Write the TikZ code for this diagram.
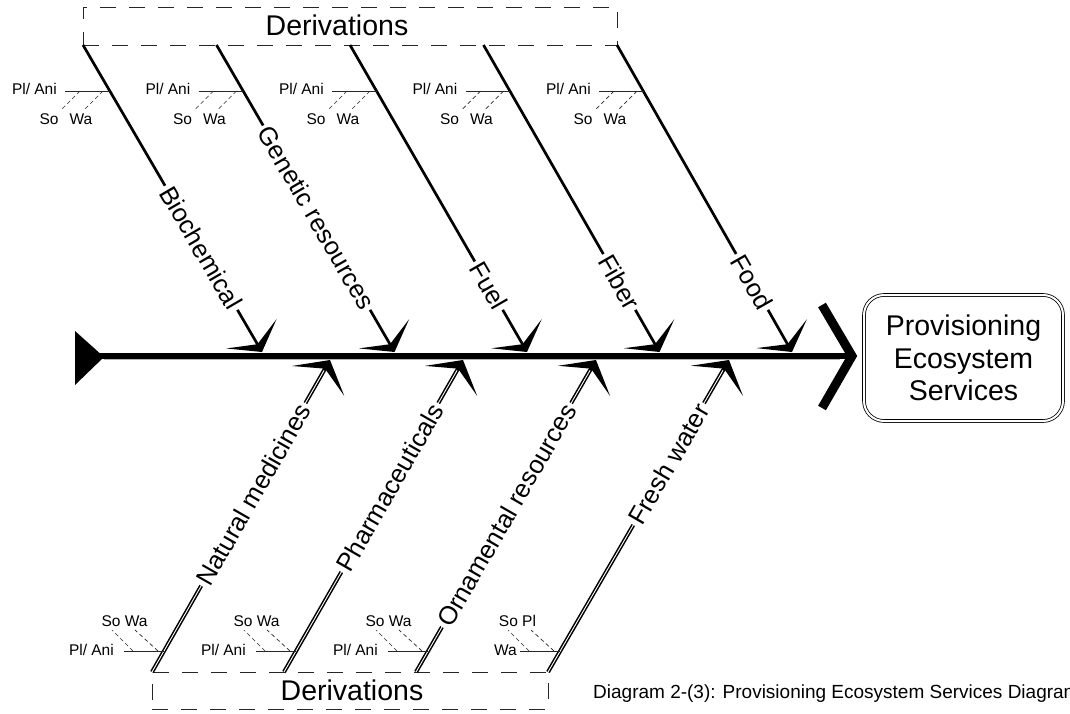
\documentclass[tikz,border=0pt]{standalone}
\usepackage{fontspec}
\setmainfont{Liberation Sans}
\usetikzlibrary{arrows.meta}
\begin{document}
\begin{tikzpicture}[x=1pt,y=-1pt,
  topbone/.style={line width=2.7pt, -{Stealth[length=21pt,width=58pt,inset=12pt]}},
  botbone/.style={line width=4pt, -{Stealth[length=24pt,width=60pt,inset=14pt]}},
  boneinner/.style={white, line width=0.9pt, shorten >=12pt},
  bonelabel/.style={font=\fontsize{25.5}{30}\selectfont, fill=white, inner sep=3pt, sloped, anchor=east},
  small/.style={font=\fontsize{15.5}{18}\selectfont, inner sep=0pt},
  subline/.style={line width=0.8pt, draw=black!85},
  subdash/.style={line width=0.7pt, draw=black!85, dash pattern=on 4pt off 3pt},
  derivbox/.style={draw=black!85, line width=0.8pt, dash pattern=on 16pt off 13pt, inner sep=0pt, outer sep=0pt},
  derivtext/.style={font=\fontsize{28.5}{32}\selectfont, inner sep=0pt},
]
\useasboundingbox (0,0) rectangle (1070,714);

% derivation boxes
\node[derivbox, minimum width=534pt, minimum height=38pt] (topbox) at (350,26) {};
\node[derivtext] (toptext) at (337,25) {Derivations};
\node[derivbox, minimum width=396pt, minimum height=37pt] (botbox) at (350,690.5) {};
\node[derivtext] (bottext) at (352,690) {Derivations};

% spine
\fill (75,331) -- (104,357) -- (75,385) -- cycle;
\coordinate (tail) at (100,356);
\coordinate (head) at (850,356);
\draw[gray!60, line width=1.2pt] (104,359.6) -- (840,359.6);
\draw[line width=5.2pt] (tail) -- (head);
\draw[line width=9pt, line join=miter] (822,305) -- (852,356) -- (822,408);

% effect box
\node[draw, double, double distance=2pt, rounded corners=20pt, line width=0.8pt,
      minimum width=199pt, minimum height=126pt, align=center,
      font=\fontsize{28.5}{32.5}\selectfont] (pes) at (963.5,358)
      {Provisioning\\Ecosystem\\Services};

% top bones
\foreach \i/\xs/\xt in {0/83/262, 1/216.5/394.5, 2/350/527, 3/483.5/659.5, 4/617/792} {
  \coordinate (ts\i) at (\xs,45);
  \coordinate (tt\i) at (\xt,352);
  \draw[topbone] (ts\i) -- (tt\i);
  \node[small, anchor=base east] (tpa\i) at ({\xs-26},95) {Pl/ Ani};
  \node[small, anchor=base] (tso\i) at ({\xs-34},125) {So};
  \node[small, anchor=base] (twa\i) at ({\xs-2},125) {Wa};
  \draw[subline] ({\xs-18},91) -- ({\xs+26.8},91);
  \draw[subdash] ({\xs-3},91) -- ({\xs-22},110);
  \draw[subdash] ({\xs+20},91) -- ({\xs+1},110);
}
\path (ts0) -- node[bonelabel, pos=0.863] (l0) {Biochemical} (tt0);
\path (ts1) -- node[bonelabel, pos=0.863] (l1) {Genetic resources} (tt1);
\path (ts2) -- node[bonelabel, pos=0.863] (l2) {Fuel} (tt2);
\path (ts3) -- node[bonelabel, pos=0.863] (l3) {Fiber} (tt3);
\path (ts4) -- node[bonelabel, pos=0.863] (l4) {Food} (tt4);

% bottom bones
\foreach \i/\xs/\xt in {0/152/330, 1/284/463, 2/416/596, 3/548/729} {
  \coordinate (bs\i) at (\xs,672);
  \coordinate (bt\i) at (\xt,360);
  \draw[botbone] (bs\i) -- (bt\i);
  \draw[boneinner] (bs\i) -- (bt\i);
  \draw[subline] ({\xs-28},651) -- ({\xs+12},651);
  \draw[subdash] ({\xs-19},651) -- ({\xs-40},630);
  \draw[subdash] ({\xs+6},651) -- ({\xs-17},630);
}
\foreach \i/\xs in {0/152, 1/284, 2/416} {
  \node[small, anchor=base] (bsw\i) at ({\xs-27.5},626) {So Wa};
  \node[small, anchor=base east] (bpa\i) at ({\xs-38},655) {Pl/ Ani};
}
\node[small, anchor=base] (bsw3) at (517.5,626) {So Pl};
\node[small, anchor=base east] (bpa3) at (517,655) {Wa};

\path (bs0) -- node[bonelabel, pos=0.862] (m0) {Natural medicines} (bt0);
\path (bs1) -- node[bonelabel, pos=0.862] (m1) {Pharmaceuticals} (bt1);
\path (bs2) -- node[bonelabel, pos=0.862] (m2) {Ornamental resources} (bt2);
\path (bs3) -- node[bonelabel, pos=0.862] (m3) {Fresh water} (bt3);

% caption
\node[anchor=base west, font=\fontsize{19}{22}\selectfont, inner sep=0pt] (cap) at (593,698)
  {Diagram 2-(3): Provisioning Ecosystem Services Diagram};
\end{tikzpicture}
\end{document}
